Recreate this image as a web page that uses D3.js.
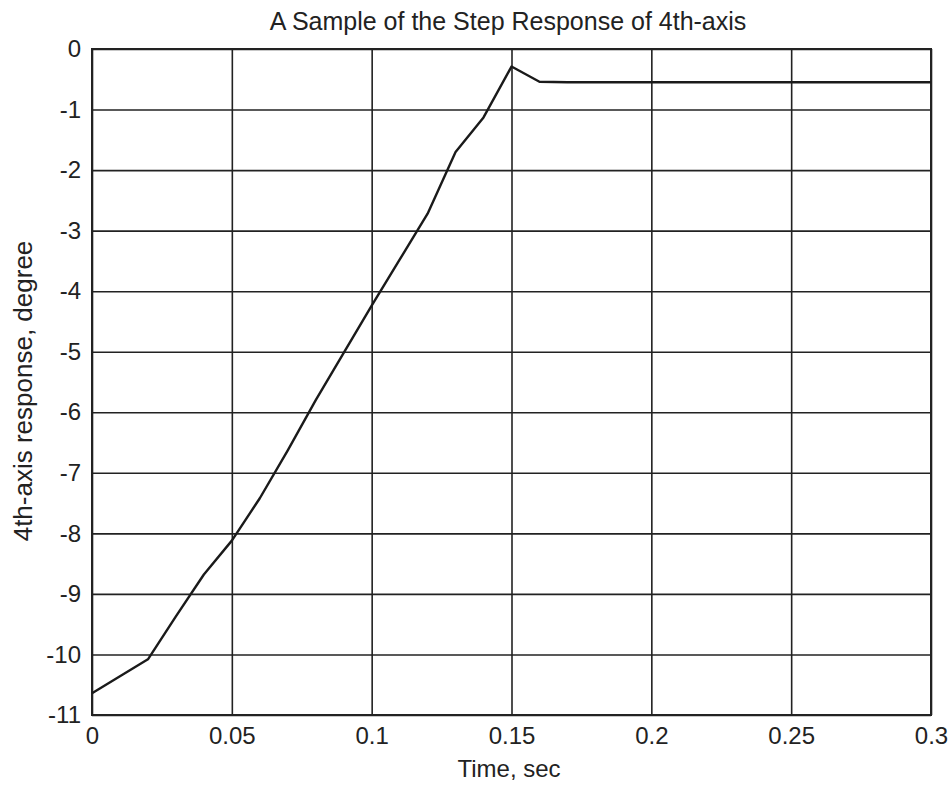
<!DOCTYPE html>
<html lang="en">
<head>
    <meta charset="UTF-8">
    <title>A Sample of the Step Response of 4th-axis</title>
    <script src="https://d3js.org/d3.v7.min.js"></script>
    <style>
        body {
            margin: 0;
            padding: 0;
            background: #fff;
            font-family: "Liberation Sans", Arial, sans-serif;
        }

        svg {
            display: block;
        }

        .grid line {
            stroke: #222;
            stroke-width: 1.6;
        }

        .axis path,
        .axis line {
            display: none;
        }

        .axis text {
            fill: #222;
            font-size: 24px;
            font-family: "Liberation Sans", Arial, sans-serif;
        }

        .frame {
            fill: none;
            stroke: #222;
            stroke-width: 2;
        }

        .response {
            fill: none;
            stroke: #1a1a1a;
            stroke-width: 2.4;
            stroke-linejoin: round;
        }
    </style>
</head>
<body>
    <svg width="952" height="788"></svg>

    <script>
        // Values
        const timeValues = [0, 0.01, 0.02, 0.03, 0.04, 0.05, 0.06, 0.07, 0.08, 0.09, 0.1,
            0.11, 0.12, 0.13, 0.14, 0.15, 0.16, 0.17, 0.18, 0.19, 0.2,
            0.21, 0.22, 0.23, 0.24, 0.25, 0.26, 0.27, 0.28, 0.29, 0.3];
        const responseValues = [-10.64, -10.36, -10.08, -9.37, -8.68, -8.12, -7.42, -6.63, -5.80, -5.02, -4.24,
            -3.48, -2.72, -1.70, -1.13, -0.29, -0.54, -0.55, -0.55, -0.55, -0.55,
            -0.55, -0.55, -0.55, -0.55, -0.55, -0.55, -0.55, -0.55, -0.55, -0.55];
        const xTicks = [0, 0.05, 0.1, 0.15, 0.2, 0.25, 0.3];
        const xTickLabels = ["0", "0.05", "0.1", "0.15", "0.2", "0.25", "0.3"];
        const yTicks = [0, -1, -2, -3, -4, -5, -6, -7, -8, -9, -10, -11];
        const yTickLabels = ["0", "-1", "-2", "-3", "-4", "-5", "-6", "-7", "-8", "-9", "-10", "-11"];

        const margin = { top: 49, right: 21, bottom: 73, left: 92 };
        const width = 952 - margin.left - margin.right;
        const height = 788 - margin.top - margin.bottom;

        const svg = d3.select("svg");
        const g = svg.append("g").attr("transform", `translate(${margin.left},${margin.top})`);

        const x = d3.scaleLinear().domain([0, 0.3]).range([0, width]);
        const y = d3.scaleLinear().domain([-11, 0]).range([height, 0]);

        // Grid lines
        g.append("g")
            .attr("class", "grid")
            .attr("transform", `translate(0,${height})`)
            .call(d3.axisBottom(x).tickValues(xTicks).tickSize(-height).tickFormat(""))
            .select(".domain").remove();

        g.append("g")
            .attr("class", "grid")
            .call(d3.axisLeft(y).tickValues(yTicks).tickSize(-width).tickFormat(""))
            .select(".domain").remove();

        // Tick labels
        g.append("g")
            .attr("class", "axis")
            .attr("transform", `translate(0,${height})`)
            .call(d3.axisBottom(x).tickValues(xTicks).tickSize(0).tickPadding(12)
                .tickFormat((d, i) => xTickLabels[i]));

        g.append("g")
            .attr("class", "axis")
            .call(d3.axisLeft(y).tickValues(yTicks).tickSize(0).tickPadding(11)
                .tickFormat((d, i) => yTickLabels[i]));

        // Plot frame
        g.append("rect")
            .attr("class", "frame")
            .attr("width", width)
            .attr("height", height);

        // Response curve
        const data = timeValues.map((t, i) => ({ t, v: responseValues[i] }));
        const line = d3.line().x(d => x(d.t)).y(d => y(d.v));

        g.append("path")
            .datum(data)
            .attr("class", "response")
            .attr("d", line);

        // Title
        svg.append("text")
            .attr("x", 508)
            .attr("y", 30)
            .attr("text-anchor", "middle")
            .style("font-size", "25px")
            .style("fill", "#222")
            .text("A Sample of the Step Response of 4th-axis");

        // X-axis title
        svg.append("text")
            .attr("x", 509)
            .attr("y", 777)
            .attr("text-anchor", "middle")
            .style("font-size", "24px")
            .style("fill", "#222")
            .text("Time, sec");

        // Y-axis title
        svg.append("text")
            .attr("transform", "rotate(-90)")
            .attr("x", -391)
            .attr("y", 32)
            .attr("text-anchor", "middle")
            .style("font-size", "26px")
            .style("fill", "#222")
            .text("4th-axis response, degree");
    </script>
</body>
</html>
